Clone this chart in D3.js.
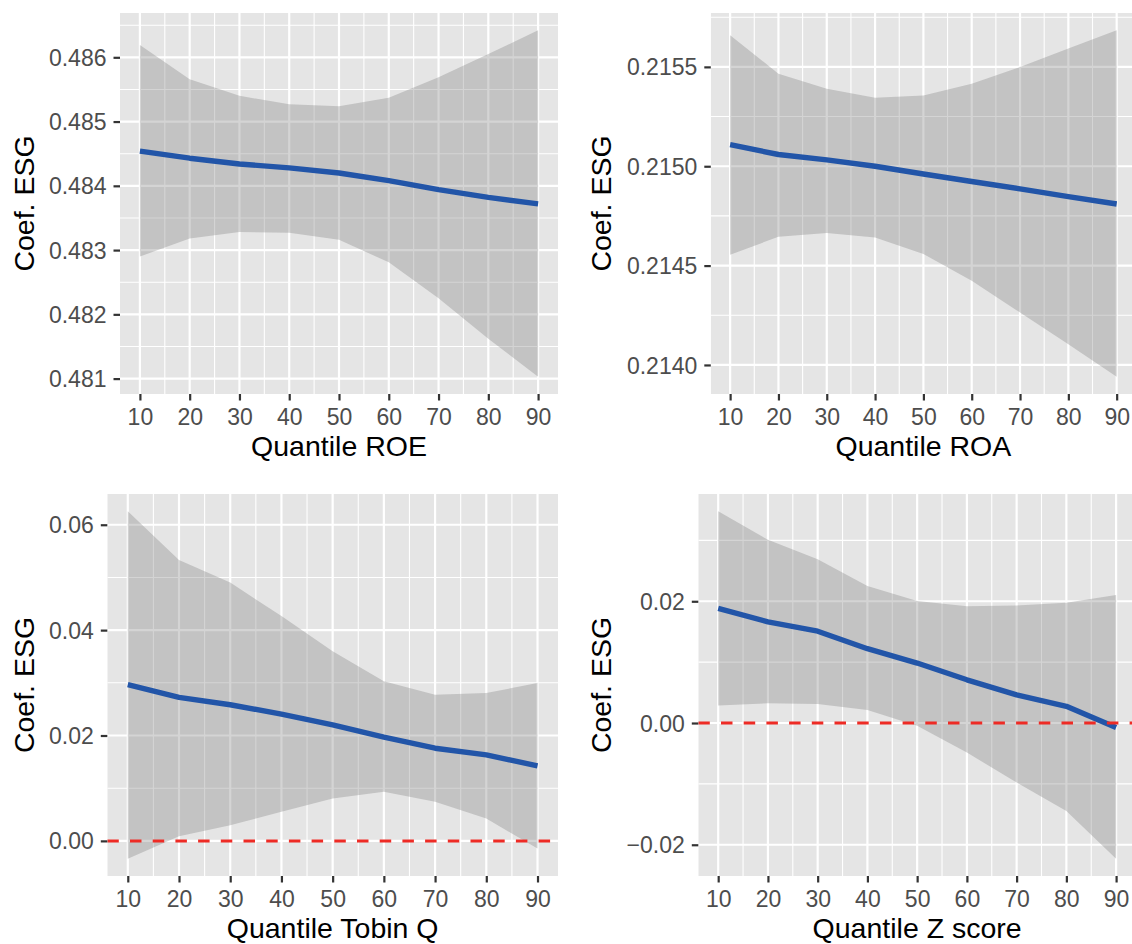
<!DOCTYPE html>
<html>
<head>
<meta charset="utf-8">
<script src="https://cdn.jsdelivr.net/npm/d3@7"></script>
<style>
  html, body { margin: 0; padding: 0; background: #ffffff; }
  svg { display: block; }
  text { font-family: "Liberation Sans", Arial, sans-serif; }
</style>
</head>
<body>
<svg id="chart" width="1132" height="944"></svg>
<script>
// ---------------- data ----------------
const quantiles = [10, 20, 30, 40, 50, 60, 70, 80, 90];
const xTicks = [10, 20, 30, 40, 50, 60, 70, 80, 90];

const roeCoef  = [0.48454, 0.48443, 0.48434, 0.48428, 0.48420, 0.48408, 0.48394, 0.48382, 0.48372];
const roeUpper = [0.48619, 0.48566, 0.48540, 0.48527, 0.48524, 0.48537, 0.48569, 0.48605, 0.48642];
const roeLower = [0.48290, 0.48318, 0.48328, 0.48327, 0.48316, 0.48281, 0.48225, 0.48162, 0.48103];
const roeTicks = [0.481, 0.482, 0.483, 0.484, 0.485, 0.486];

const roaCoef  = [0.215109, 0.215059, 0.215032, 0.215000, 0.214961, 0.214923, 0.214886, 0.214847, 0.214810];
const roaUpper = [0.215659, 0.215466, 0.215390, 0.215345, 0.215356, 0.215415, 0.215499, 0.215592, 0.215684];
const roaLower = [0.214555, 0.214645, 0.214664, 0.214642, 0.214558, 0.214424, 0.214264, 0.214104, 0.213941];
const roaTicks = [0.2140, 0.2145, 0.2150, 0.2155];

const tobinCoef  = [0.02965, 0.02724, 0.02584, 0.02406, 0.02203, 0.01968, 0.01759, 0.01632, 0.01422];
const tobinUpper = [0.06254, 0.05333, 0.04902, 0.04267, 0.03600, 0.03029, 0.02775, 0.02806, 0.02997];
const tobinLower = [-0.00337, 0.00089, 0.00298, 0.00552, 0.00806, 0.00933, 0.00743, 0.00425, -0.00146];
const tobinTicks = [0.00, 0.02, 0.04, 0.06];

const zCoef  = [0.01882, 0.01662, 0.01508, 0.01221, 0.00985, 0.00710, 0.00462, 0.00275, -0.00072];
const zUpper = [0.03477, 0.03010, 0.02690, 0.02250, 0.02003, 0.01920, 0.01931, 0.01975, 0.02102];
const zLower = [0.00286, 0.00325, 0.00314, 0.00215, -0.00044, -0.00484, -0.00979, -0.01447, -0.02228];
const zTicks = [-0.02, 0.00, 0.02];

const xTitles = ["Quantile ROE", "Quantile ROA", "Quantile Tobin Q", "Quantile Z score"];
const yTitle = "Coef. ESG";

// ---------------- layout ----------------
const panels = [
  { coef: roeCoef, upper: roeUpper, lower: roeLower, ticks: roeTicks, fmt: d3.format(".3f"), title: xTitles[0],
    box: { left: 120, right: 558, top: 13, bottom: 394 }, titleX: 33.5, zero: false },
  { coef: roaCoef, upper: roaUpper, lower: roaLower, ticks: roaTicks, fmt: d3.format(".4f"), title: xTitles[1],
    box: { left: 710.8, right: 1136, top: 13, bottom: 394 }, titleX: 611, zero: false },
  { coef: tobinCoef, upper: tobinUpper, lower: tobinLower, ticks: tobinTicks, fmt: d3.format(".2f"), title: xTitles[2],
    box: { left: 107.3, right: 558, top: 494, bottom: 876 }, titleX: 33.5, zero: true },
  { coef: zCoef, upper: zUpper, lower: zLower, ticks: zTicks, fmt: d3.format(".2f"), title: xTitles[3],
    box: { left: 698.3, right: 1136, top: 494, bottom: 876 }, titleX: 611, zero: true }
];

const svg = d3.select("#chart");

const PANEL_BG = "#E5E5E5";
const TICK_FONT = 23;
const TITLE_FONT = 28.5;

panels.forEach((p, i) => {
  const b = p.box;
  const g = svg.append("g");

  // scales with ggplot-style 5% expansion
  const xExt = d3.extent(quantiles);
  const xPad = (xExt[1] - xExt[0]) * 0.05;
  const x = d3.scaleLinear().domain([xExt[0] - xPad, xExt[1] + xPad]).range([b.left, b.right]);

  const allY = p.upper.concat(p.lower, p.coef);
  const yExt = d3.extent(allY);
  const yPad = (yExt[1] - yExt[0]) * 0.05;
  const y = d3.scaleLinear().domain([yExt[0] - yPad, yExt[1] + yPad]).range([b.bottom, b.top]);

  const clipId = "clip" + i;
  svg.append("clipPath").attr("id", clipId)
    .append("rect").attr("x", b.left).attr("y", b.top)
    .attr("width", b.right - b.left).attr("height", b.bottom - b.top);

  const pg = g.append("g").attr("clip-path", `url(#${clipId})`);

  // background
  pg.append("rect").attr("x", b.left).attr("y", b.top)
    .attr("width", b.right - b.left).attr("height", b.bottom - b.top)
    .attr("fill", PANEL_BG);

  // minor grid
  const xd = x.domain(), yd = y.domain();
  const xMinor = [];
  for (let k = 0; k < xTicks.length + 1; k++) {
    const v = (k === 0 ? xTicks[0] - 5 : xTicks[k - 1] + 5);
    if (v >= xd[0] && v <= xd[1]) xMinor.push(v);
  }
  const step = p.ticks[1] - p.ticks[0];
  const yMinor = [];
  for (let k = -1; k < p.ticks.length; k++) {
    const v = p.ticks[0] + step * (k + 0.5);
    if (v >= yd[0] && v <= yd[1]) yMinor.push(v);
  }
  pg.selectAll(".xminor").data(xMinor).enter().append("line")
    .attr("x1", d => x(d)).attr("x2", d => x(d)).attr("y1", b.top).attr("y2", b.bottom)
    .attr("stroke", "#ffffff").attr("stroke-width", 1.1);
  pg.selectAll(".yminor").data(yMinor).enter().append("line")
    .attr("y1", d => y(d)).attr("y2", d => y(d)).attr("x1", b.left).attr("x2", b.right)
    .attr("stroke", "#ffffff").attr("stroke-width", 1.1);
  // major grid
  pg.selectAll(".xmajor").data(xTicks).enter().append("line")
    .attr("x1", d => x(d)).attr("x2", d => x(d)).attr("y1", b.top).attr("y2", b.bottom)
    .attr("stroke", "#ffffff").attr("stroke-width", 2.2);
  pg.selectAll(".ymajor").data(p.ticks).enter().append("line")
    .attr("y1", d => y(d)).attr("y2", d => y(d)).attr("x1", b.left).attr("x2", b.right)
    .attr("stroke", "#ffffff").attr("stroke-width", 2.2);

  // ribbon
  const rows = quantiles.map((q, j) => ({ q, c: p.coef[j], lo: p.lower[j], hi: p.upper[j] }));
  const area = d3.area().x(d => x(d.q)).y0(d => y(d.lo)).y1(d => y(d.hi));
  pg.append("path").datum(rows).attr("d", area)
    .attr("fill", "#808080").attr("fill-opacity", 0.34);

  // line
  const line = d3.line().x(d => x(d.q)).y(d => y(d.c));
  pg.append("path").datum(rows).attr("d", line)
    .attr("fill", "none").attr("stroke", "#2255A8").attr("stroke-width", 5.4)
    .attr("stroke-linejoin", "round");

  // zero reference line
  if (p.zero) {
    pg.append("line").attr("x1", b.left).attr("x2", b.right)
      .attr("y1", y(0)).attr("y2", y(0))
      .attr("stroke", "#EE2B25").attr("stroke-width", 3)
      .attr("stroke-dasharray", "11.5,11.2");
  }

  // axes
  const xAxis = d3.axisBottom(x).tickValues(xTicks).tickSize(6.5).tickPadding(5).tickFormat(d3.format("d"));
  const xa = g.append("g").attr("transform", `translate(0,${b.bottom})`).call(xAxis);
  xa.select(".domain").remove();
  xa.selectAll(".tick line").attr("stroke", "#333333").attr("stroke-width", 2.2);
  xa.selectAll(".tick text").attr("fill", "#4D4D4D").attr("font-size", TICK_FONT)
    .attr("font-family", "Liberation Sans, Arial, sans-serif")
    .attr("dy", null).attr("y", 31).attr("dominant-baseline", "alphabetic");

  const yAxis = d3.axisLeft(y).tickValues(p.ticks).tickSize(6.5).tickPadding(7).tickFormat(d => {
    const s = p.fmt(d);
    return s.replace("-", "\u2212");
  });
  const ya = g.append("g").attr("transform", `translate(${b.left},0)`).call(yAxis);
  ya.select(".domain").remove();
  ya.selectAll(".tick line").attr("stroke", "#333333").attr("stroke-width", 2.2);
  ya.selectAll(".tick text").attr("fill", "#4D4D4D").attr("font-size", TICK_FONT)
    .attr("font-family", "Liberation Sans, Arial, sans-serif")
    .attr("dy", "0.35em");

  // titles
  g.append("text").attr("x", (b.left + b.right) / 2).attr("y", b.bottom + 62)
    .attr("text-anchor", "middle").attr("font-size", TITLE_FONT).attr("fill", "#000000")
    .text(p.title);
  g.append("text")
    .attr("transform", `translate(${p.titleX},${(b.top + b.bottom) / 2}) rotate(-90)`)
    .attr("text-anchor", "middle").attr("font-size", TITLE_FONT).attr("fill", "#000000")
    .text(yTitle);
});
</script>
</body>
</html>
